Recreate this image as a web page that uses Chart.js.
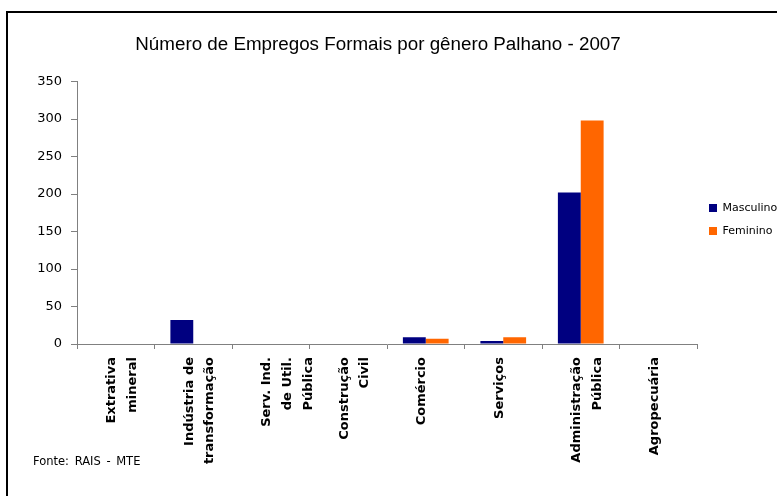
<!DOCTYPE html>
<html>
<head>
<meta charset="utf-8">
<script src="https://cdn.jsdelivr.net/npm/chart.js@4/dist/chart.umd.min.js"></script>
<style>
	body { margin: 0; background: #fff; }
	#wrap { position: relative; width: 777px; height: 496px; overflow: hidden; }
	#frame { position: absolute; left: 6px; top: 11px; width: 800px; height: 500px; border: 2px solid #000; box-sizing: border-box; }
	#fonte { position: absolute; left: 33px; top: 454px; font: 11.5px "DejaVu Sans", sans-serif; color: #000; word-spacing: 2px; }
	canvas { position: absolute; left: 0; top: 0; }
</style>
</head>
<body>
<div id="wrap">
	<div id="frame"></div>
	<canvas id="myChart" width="777" height="496"></canvas>
	<div id="fonte">Fonte: RAIS - MTE</div>
</div>
<script>
var labels = [
	['Extrativa', 'mineral'],
	['Indústria de', 'transformação'],
	['Serv. Ind.', 'de Util.', 'Pública'],
	['Construção', 'Civil'],
	'Comércio',
	'Serviços',
	['Administração', 'Pública'],
	'Agropecuária'
];
var masculino = [0, 32, 0, 0, 9, 4, 202, 0];
var feminino = [0, 0, 0, 0, 7, 9, 298, 0];
var yTicks = [0, 50, 100, 150, 200, 250, 300, 350];

var axisColor = '#808080';

var ctx = document.getElementById('myChart').getContext('2d');
var myChart = new Chart(ctx, {
	type: 'bar',
	data: {
		labels: labels,
		datasets: [{
			label: 'Masculino',
			data: masculino,
			backgroundColor: '#000080',
			borderWidth: 0
		}, {
			label: 'Feminino',
			data: feminino,
			backgroundColor: '#FF6600',
			borderWidth: 0
		}]
	},
	options: {
		responsive: false,
		animation: false,
		// negative side padding keeps the title centred where the original had it
		layout: {
			padding: { left: -25, right: -4, top: 0, bottom: 0 }
		},
		datasets: {
			bar: {
				categoryPercentage: 0.59,
				barPercentage: 1
			}
		},
		scales: {
			x: {
				grid: {
					display: true,
					drawOnChartArea: false,
					tickLength: 5,
					color: axisColor
				},
				border: { color: axisColor, width: 1 },
				ticks: {
					autoSkip: false,
					minRotation: 90,
					maxRotation: 90,
					padding: 8,
					labelOffset: -4,
					color: '#000',
					font: { family: 'DejaVu Sans', size: 13, weight: 'bold', lineHeight: 1.6 }
				},
				afterFit: function (scale) {
					scale.height = 152;
				}
			},
			y: {
				min: 0,
				max: 350,
				afterBuildTicks: function (scale) {
					scale.ticks = yTicks.map(function (v) { return { value: v }; });
				},
				grid: {
					display: true,
					drawOnChartArea: false,
					tickLength: 6,
					color: axisColor
				},
				border: { color: axisColor, width: 1 },
				ticks: {
					padding: 9,
					color: '#000',
					font: { family: 'DejaVu Sans', size: 13 }
				},
				afterFit: function (scale) {
					scale.width = 102;
				}
			}
		},
		plugins: {
			title: {
				display: true,
				text: 'Número de Empregos Formais por gênero Palhano - 2007',
				color: '#000',
				font: { family: 'Liberation Sans', size: 18.8, weight: 'normal' },
				padding: { top: 34, bottom: 25 }
			},
			legend: {
				position: 'right',
				fullSize: false,
				maxWidth: 84,
				title: {
					display: true,
					text: '',
					font: { size: 11 },
					padding: 0
				},
				labels: {
					boxWidth: 8,
					boxHeight: 8,
					padding: 12,
					color: '#000',
					font: { family: 'DejaVu Sans', size: 11 }
				}
			},
			tooltip: { enabled: false }
		}
	}
});
</script>
</body>
</html>
